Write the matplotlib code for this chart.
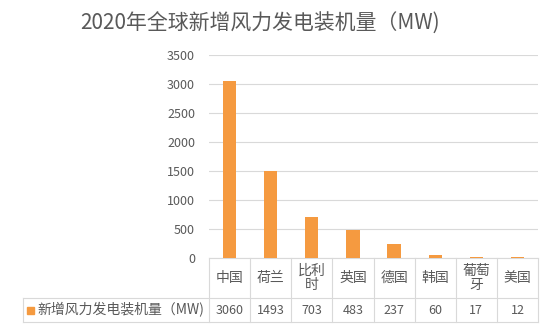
import matplotlib.pyplot as plt
from matplotlib.transforms import blended_transform_factory
from matplotlib.patches import Rectangle

plt.rcParams['font.family'] = ['Noto Sans CJK SC', 'DejaVu Sans']

# 各国新增装机量
countries = ['中国', '荷兰', '比利\n时', '英国', '德国', '韩国', '葡萄\n牙', '美国']
capacity = [3060, 1493, 703, 483, 237, 60, 17, 12]
series_name = '新增风力发电装机量（MW)'
title = '2020年全球新增风力发电装机量（MW)'
yticks = [0, 500, 1000, 1500, 2000, 2500, 3000, 3500]

bar_color = '#F59A40'
text_color = '#595959'
line_color = '#D9D9D9'

W, H = 550, 326
fig = plt.figure(figsize=(W / 100, H / 100), dpi=100)
# 绘图区（像素）
left, right, top, bottom = 209, 538, 55, 258
ax = fig.add_axes([left / W, 1 - bottom / H, (right - left) / W, (bottom - top) / H])

x = list(range(len(countries)))
ax.bar(x, capacity, width=0.32, color=bar_color, zorder=3)
ax.set_xlim(-0.5, len(countries) - 0.5)
ax.set_ylim(0, 3500)
ax.set_yticks(yticks)
ax.set_yticklabels([str(t) for t in yticks], fontsize=9, color=text_color)
ax.tick_params(axis='y', length=0, pad=10)
ax.set_xticks([])
ax.grid(axis='y', color=line_color, linewidth=0.8, zorder=0)
for s in ['top', 'right', 'left']:
    ax.spines[s].set_visible(False)
ax.spines['bottom'].set_color(line_color)

fig.text(260 / W, 1 - 24 / H, title, ha='center', va='center', fontsize=15, color=text_color)

# 数据表
h = bottom - top
row1 = -(298 - bottom) / h
row2 = -(322 - bottom) / h
tr = blended_transform_factory(ax.transData, ax.transAxes)
for i, (c, v) in enumerate(zip(countries, capacity)):
    ax.text(i, row1 / 2, c, transform=tr, ha='center', va='center', fontsize=10,
            color=text_color, linespacing=1.0)
    ax.text(i, (row1 + row2) / 2, str(v), transform=tr, ha='center', va='center',
            fontsize=9, color=text_color)
for i in range(len(countries) + 1):
    ax.plot([i - 0.5, i - 0.5], [0, row2], transform=tr, color=line_color,
            linewidth=0.8, clip_on=False)

# 图例单元格
fl = 23 / W
fig.add_artist(plt.Line2D([fl, right / W], [1 - 298 / H] * 2, color=line_color, linewidth=0.8))
fig.add_artist(plt.Line2D([fl, right / W], [1 - 322 / H] * 2, color=line_color, linewidth=0.8))
fig.add_artist(plt.Line2D([fl, fl], [1 - 298 / H, 1 - 322 / H], color=line_color, linewidth=0.8))
fig.add_artist(Rectangle((27 / W, 1 - 314 / H), 7 / W, 7 / H, color=bar_color))
fig.text(37 / W, 1 - 310 / H, series_name, ha='left', va='center', fontsize=10, color=text_color)

fig.savefig('out.png', dpi=100)
